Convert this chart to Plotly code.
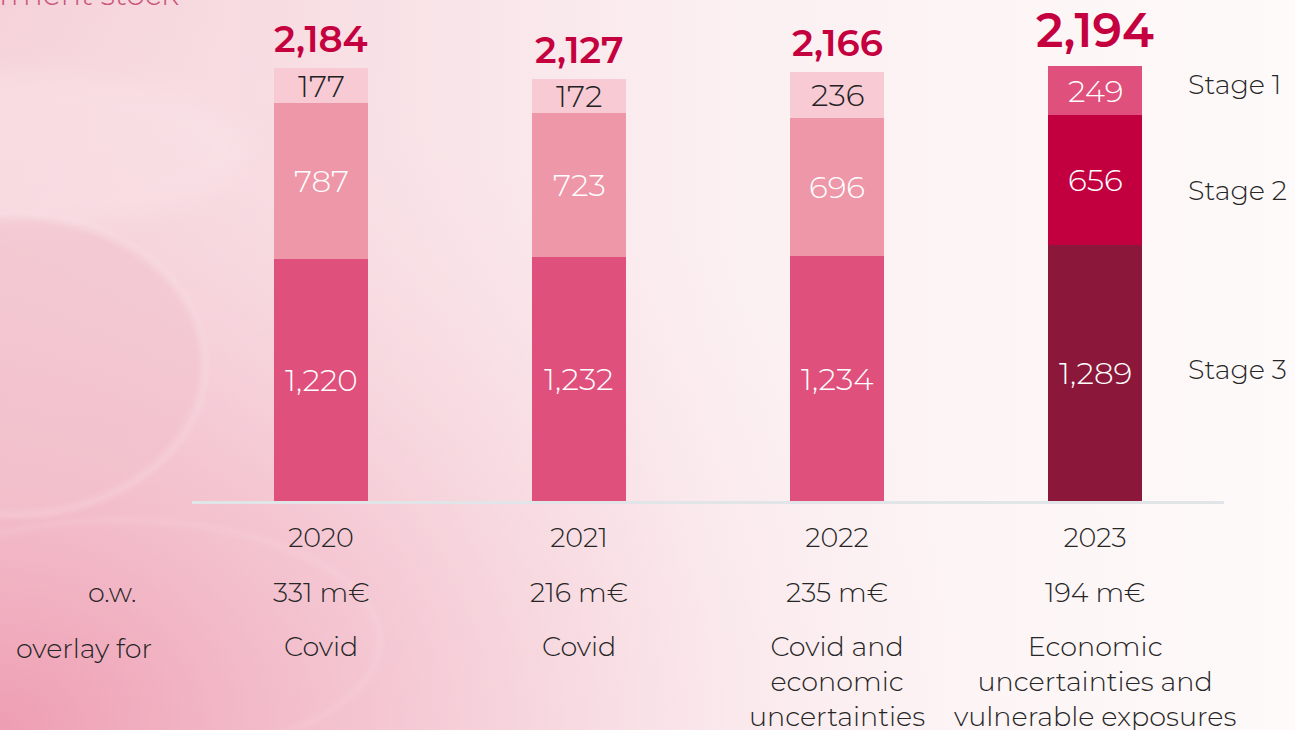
import base64
import plotly.graph_objects as go

# ---------------- data ----------------
years = ["2020", "2021", "2022", "2023"]
stage3 = [1220, 1232, 1234, 1289]
stage2 = [787, 723, 696, 656]
stage1 = [177, 172, 236, 249]
totals = [2184, 2127, 2166, 2194]
overlay_amount = ["331 m€", "216 m€", "235 m€", "194 m€"]
overlay_reason = ["Covid", "Covid", "Covid and<br>economic<br>uncertainties",
                  "Economic<br>uncertainties and<br>vulnerable exposures"]
stage_names = ["Stage 1", "Stage 2", "Stage 3"]

# ---------------- style ----------------
W, H = 1295, 730
L, R, T, B = 192, 71, 20, 229
PW, PH = W - L - R, H - T - B
YMAX = 2426

c_s1 = ["#f7cad4", "#f7cad4", "#f7cad4", "#e0507c"]
c_s2 = ["#ed97a8", "#ed97a8", "#ed97a8", "#c3003f"]
c_s3 = ["#e0507c", "#e0507c", "#e0507c", "#8b173a"]
t_s1 = ["#222222", "#222222", "#222222", "#ffffff"]
FONT = "Montserrat, Lato, 'Open Sans', sans-serif"
DARK = "#262626"
CRIMSON = "#c5003f"


def px_x(px):
    return (px - L) / PW


def px_y(py):
    return (H - B - py) / PH


svg = f"""<svg xmlns='http://www.w3.org/2000/svg' width='{W}' height='{H}' viewBox='0 0 {W} {H}'>
<defs>
<linearGradient id='g1' x1='0' y1='0' x2='1' y2='0'>
<stop offset='0' stop-color='#f5d2d9'/><stop offset='0.55' stop-color='#fbeff1'/><stop offset='1' stop-color='#fefafa'/>
</linearGradient>
<radialGradient id='g2' cx='0' cy='1' r='1' gradientTransform='scale(0.75 1)'>
<stop offset='0' stop-color='#ee9db2' stop-opacity='1'/><stop offset='0.45' stop-color='#f3bccb' stop-opacity='0.6'/><stop offset='1' stop-color='#fbe9ec' stop-opacity='0'/>
</radialGradient>
<filter id='bl'><feGaussianBlur stdDeviation='3'/></filter>
<filter id='bl2'><feGaussianBlur stdDeviation='12'/></filter>
</defs>
<rect width='{W}' height='{H}' fill='url(#g1)'/>
<rect width='{W}' height='{H}' fill='url(#g2)'/>
<ellipse cx='-10' cy='150' rx='260' ry='80' fill='#fbe7eb' opacity='0.4' filter='url(#bl2)'/>
<ellipse cx='15' cy='365' rx='190' ry='150' fill='#f2c2cd' opacity='0.5' filter='url(#bl)'/>
<ellipse cx='15' cy='365' rx='190' ry='150' fill='none' stroke='#ffffff' stroke-opacity='0.45' stroke-width='2.5' filter='url(#bl)'/>
<ellipse cx='120' cy='640' rx='260' ry='120' fill='none' stroke='#ffffff' stroke-opacity='0.2' stroke-width='3' filter='url(#bl)'/>
</svg>"""
bg_src = "data:image/svg+xml;base64," + base64.b64encode(svg.encode()).decode()

fig = go.Figure()
for vals, cols, name in [(stage3, c_s3, "Stage 3"), (stage2, c_s2, "Stage 2"), (stage1, c_s1, "Stage 1")]:
    fig.add_trace(go.Bar(x=years, y=vals, name=name, marker=dict(color=cols, line=dict(width=0)),
                         textposition="none", hoverinfo="x+y+name"))

ann = []
for i, y in enumerate(years):
    # segment labels (x given as category index)
    segs = [(stage3[i], 0, "#ffffff"), (stage2[i], stage3[i], "#ffffff"),
            (stage1[i], stage3[i] + stage2[i], t_s1[i])]
    for v, base, col in segs:
        ann.append(dict(x=i, y=base + v / 2, xref="x", yref="y", text=f"{v:,}", showarrow=False,
                        font=dict(family=FONT, size=31, color=col, weight=300),
                        xanchor="center", yanchor="middle"))
    # totals
    big = i == 3
    ann.append(dict(x=i, y=totals[i], xref="x", yref="y", text=f"{totals[i]:,}", showarrow=False,
                    font=dict(family=FONT, size=47 if big else 37, color=CRIMSON, weight=600),
                    xanchor="center", yanchor="bottom", yshift=5))
    # rows below
    ann.append(dict(x=i, y=px_y(592), xref="x", yref="paper", text=overlay_amount[i], showarrow=False,
                    font=dict(family=FONT, size=27, color=DARK, weight=300), xanchor="center", yanchor="middle"))
    ann.append(dict(x=i, y=px_y(628), xref="x", yref="paper", text=overlay_reason[i], showarrow=False,
                    font=dict(family=FONT, size=27, color=DARK, weight=300), xanchor="center", yanchor="top",
                    align="center"))

# row headers
ann.append(dict(x=px_x(139), y=px_y(592), xref="paper", yref="paper", text="o.w.", showarrow=False,
                font=dict(family=FONT, size=27, color=DARK, weight=300), xanchor="right", yanchor="middle"))
ann.append(dict(x=px_x(154), y=px_y(648), xref="paper", yref="paper", text="overlay for", showarrow=False,
                font=dict(family=FONT, size=27, color=DARK, weight=300), xanchor="right", yanchor="middle"))
# stage labels
for name, py in zip(stage_names, [84, 190, 370]):
    ann.append(dict(x=px_x(1186), y=px_y(py), xref="paper", yref="paper", text=name, showarrow=False,
                    font=dict(family=FONT, size=27, color=DARK, weight=300), xanchor="left", yanchor="middle"))
# cropped title
ann.append(dict(x=px_x(181), y=px_y(-6), xref="paper", yref="paper", text="Impairment stock", showarrow=False,
                font=dict(family=FONT, size=30, color="#c95478", weight=300), xanchor="right", yanchor="middle"))

fig.update_layout(
    width=W, height=H,
    margin=dict(l=L, r=R, t=T, b=B, pad=0),
    barmode="stack", bargap=0.636,
    showlegend=False,
    paper_bgcolor="#fbeff1", plot_bgcolor="rgba(0,0,0,0)",
    annotations=ann,
    images=[dict(source=bg_src, xref="paper", yref="paper", x=-L / PW, y=1 + T / PH,
                 sizex=W / PW, sizey=H / PH, sizing="stretch", xanchor="left", yanchor="top",
                 layer="below")],
    xaxis=dict(type="category", range=[-0.5, len(years) - 0.5], showline=True, linecolor="#e1e5e8",
               linewidth=3, showgrid=False, zeroline=False, ticks="",
               tickfont=dict(family=FONT, size=27, color=DARK, weight=300), ticklabelstandoff=11),
    yaxis=dict(range=[0, YMAX], visible=False, showgrid=False, zeroline=False),
)

fig.write_html("out.html", config={"displayModeBar": False},
               post_script="document.body.style.margin='0';document.body.style.overflow='hidden';")
